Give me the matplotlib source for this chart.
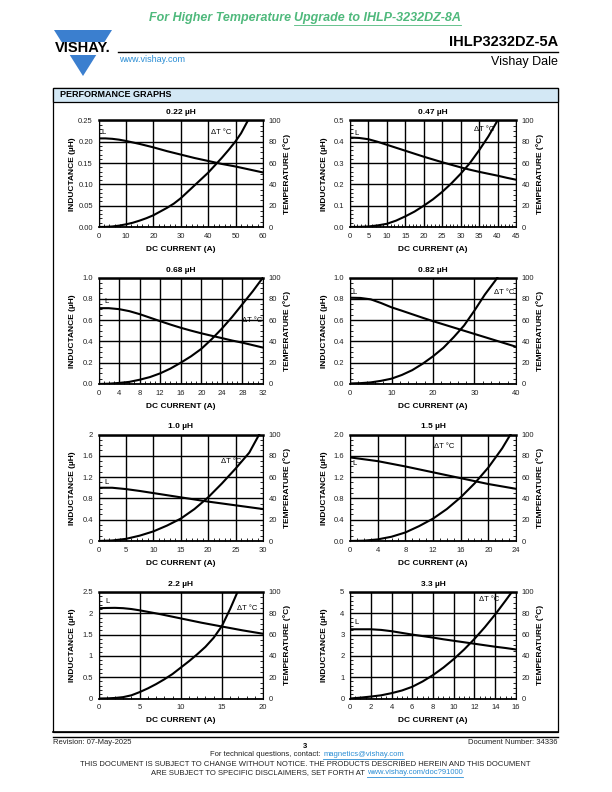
import numpy as np
import matplotlib
matplotlib.use('Agg')
import matplotlib.pyplot as plt
from matplotlib.patches import Rectangle, Polygon
from matplotlib.ticker import AutoMinorLocator

plt.rcParams['font.family'] = ['Liberation Sans', 'DejaVu Sans']

W, H = 612, 792

# ---- data ----
# 0.22 uH
i_022 = [0, 2.5, 5, 7.5, 10, 15, 20, 25, 30, 35, 40, 45, 50, 55, 60]
l_022 = [0.208, 0.208, 0.207, 0.205, 0.202, 0.195, 0.187, 0.178, 0.170, 0.162, 0.155, 0.148, 0.142, 0.135, 0.128]
ti_022 = [0, 2.5, 5, 7.5, 10, 12.5, 15, 17.5, 20, 22.5, 25, 27.5, 30, 32.5, 35, 37.5, 40, 42.5, 45, 47.5, 50, 52, 54.5]
t_022 = [0, 0.1, 0.5, 1.3, 2.5, 4, 6, 8.3, 11, 14.5, 18, 22, 27, 33, 39, 45, 51, 58, 65, 72.5, 80.5, 88, 100]

# 0.47 uH
i_047 = [0, 2.5, 5, 7.5, 10, 12.5, 15, 17.5, 20, 22.5, 25, 27.5, 30, 32.5, 35, 37.5, 40, 42.5, 45]
l_047 = [0.420, 0.418, 0.412, 0.400, 0.386, 0.372, 0.358, 0.344, 0.330, 0.317, 0.304, 0.292, 0.280, 0.269, 0.259, 0.250, 0.241, 0.231, 0.222]
ti_047 = [0, 2.5, 5, 7.5, 10, 12.5, 15, 17.5, 20, 22.5, 25, 27.5, 30, 32.5, 35, 37.5, 40]
t_047 = [0, 0.1, 0.5, 1.5, 3, 6, 10, 14.5, 20, 26, 33, 41, 50, 60, 72, 85, 100]

# 0.68 uH
i_068 = [0, 2, 4, 6, 8, 10, 12, 14, 16, 18, 20, 22, 24, 26, 28, 30, 32]
l_068 = [0.712, 0.712, 0.703, 0.684, 0.656, 0.623, 0.590, 0.558, 0.528, 0.501, 0.476, 0.453, 0.431, 0.408, 0.388, 0.365, 0.342]
ti_068 = [0, 2, 4, 6, 8, 10, 12, 14, 16, 18, 20, 22, 24, 26, 28, 30, 32]
t_068 = [0, 0.3, 1, 2, 4, 6.5, 10, 14.5, 20, 26, 33, 42, 52, 63, 75, 87, 100]

# 0.82 uH
i_082 = [0, 2.5, 5, 7.5, 10, 12.5, 15, 17.5, 20, 22.5, 25, 27.5, 30, 32.5, 35, 37.5, 40]
l_082 = [0.81, 0.808, 0.795, 0.76, 0.72, 0.688, 0.655, 0.622, 0.59, 0.56, 0.53, 0.50, 0.47, 0.44, 0.41, 0.38, 0.35]
ti_082 = [0, 2.5, 5, 7.5, 10, 12.5, 15, 17.5, 20, 22.5, 25, 27.5, 30, 32.5, 35, 35.5]
t_082 = [0.5, 0.8, 1.5, 3, 5, 8.5, 13, 19, 26, 34, 44, 55, 69, 84, 97, 100]

# 1.0 uH
i_100 = [0, 2.5, 5, 7.5, 10, 12.5, 15, 17.5, 20, 22.5, 25, 27.5, 30]
l_100 = [1.0, 1.0, 0.975, 0.94, 0.90, 0.86, 0.82, 0.78, 0.74, 0.705, 0.67, 0.635, 0.60]
ti_100 = [0, 2.5, 5, 7.5, 10, 12.5, 15, 17.5, 20, 22.5, 25, 27.5, 29.3]
t_100 = [0, 0.5, 2, 5, 9, 14.5, 21, 30, 41, 54, 68, 83, 100]

# 1.5 uH
i_150 = [0, 2, 4, 6, 8, 10, 12, 14, 16, 18, 20, 22, 24]
l_150 = [1.57, 1.535, 1.50, 1.45, 1.40, 1.345, 1.29, 1.235, 1.18, 1.125, 1.07, 1.025, 0.98]
ti_150 = [0, 2, 4, 6, 8, 10, 12, 14, 16, 18, 20, 21, 22, 23.2]
t_150 = [0, 0.3, 1.5, 4, 8, 14, 21, 30, 41, 54, 69, 78, 87, 100]

# 2.2 uH
i_220 = [0, 1, 2, 3, 4, 5, 7.5, 10, 12.5, 15, 17.5, 20]
l_220 = [2.12, 2.125, 2.128, 2.12, 2.10, 2.07, 1.98, 1.88, 1.78, 1.69, 1.60, 1.52]
ti_220 = [0, 1, 2, 3, 4, 5, 6, 7, 8, 9, 10, 11, 12, 13, 14, 15, 16, 16.9]
t_220 = [0, 0.1, 0.5, 1.3, 3, 6, 9.5, 13.5, 18, 23, 29, 35, 41.5, 48.5, 57, 68, 84, 100]

# 3.3 uH
i_330 = [0, 1, 2, 3, 4, 5, 6, 7, 8, 9, 10, 11, 12, 13, 14, 15, 16]
l_330 = [3.25, 3.25, 3.25, 3.22, 3.16, 3.08, 3.00, 2.93, 2.86, 2.78, 2.71, 2.64, 2.57, 2.50, 2.43, 2.37, 2.30]
ti_330 = [0, 1, 2, 3, 4, 5, 6, 7, 8, 9, 10, 11, 12, 13, 14, 15, 15.6]
t_330 = [0, 0.8, 1.8, 3, 5, 7.5, 11, 16, 22, 29, 37, 46, 56, 67, 79, 92, 100]

titles = ['0.22 µH', '0.47 µH', '0.68 µH', '0.82 µH', '1.0 µH', '1.5 µH', '2.2 µH', '3.3 µH']
x_max = [60, 45, 32, 40, 30, 24, 20, 16]
x_step = [10, 5, 4, 10, 5, 4, 5, 2]
y_ticklabels = [
    ['0.00', '0.05', '0.10', '0.15', '0.20', '0.25'],
    ['0.0', '0.1', '0.2', '0.3', '0.4', '0.5'],
    ['0.0', '0.2', '0.4', '0.6', '0.8', '1.0'],
    ['0.0', '0.2', '0.4', '0.6', '0.8', '1.0'],
    ['0', '0.4', '0.8', '1.2', '1.6', '2'],
    ['0.0', '0.4', '0.8', '1.2', '1.6', '2.0'],
    ['0', '0.5', '1', '1.5', '2', '2.5'],
    ['0', '1', '2', '3', '4', '5'],
]
temp_ticks = [0, 20, 40, 60, 80, 100]
curves = [(i_022, l_022, ti_022, t_022), (i_047, l_047, ti_047, t_047),
          (i_068, l_068, ti_068, t_068), (i_082, l_082, ti_082, t_082),
          (i_100, l_100, ti_100, t_100), (i_150, l_150, ti_150, t_150),
          (i_220, l_220, ti_220, t_220), (i_330, l_330, ti_330, t_330)]
# label spots (x, y in inductance units), ha for delta T label
l_label = [(1.2, 0.222), (1.2, 0.44), (1.1, 0.77), (0.6, 0.855), (1.0, 1.1), (0.4, 1.46), (0.8, 2.27), (0.4, 3.58)]
t_label = [(41.2, 0.222, 'left'), (33.5, 0.456, 'left'), (31.8, 0.6, 'right'), (34.8, 0.855, 'left'),
           (22.3, 1.5, 'left'), (12.2, 1.78, 'left'), (16.8, 2.12, 'left'), (12.4, 4.63, 'left')]

# layout in pixels
col_left = [98.5, 350]
col_w = [164.5, 166]
row_top = [120.5, 277.5, 434.5, 592]
ax_h = 106.5

fig = plt.figure(figsize=(W / 100, H / 100), dpi=100)
bg = fig.add_axes([0, 0, 1, 1])
bg.set_xlim(0, W)
bg.set_ylim(H, 0)
bg.axis('off')
renderer = fig.canvas.get_renderer()


def text_runs(x, y, runs, size, ha='center', weight='normal', style='normal', gap=True):
    items = []
    total = 0
    space = size * 0.278 * 100 / 72
    for k, (s, color, under) in enumerate(runs):
        t = bg.text(0, y, s, fontsize=size, color=color, fontweight=weight, fontstyle=style,
                    va='center', ha='left')
        w = t.get_window_extent(renderer).width
        items.append((t, w, under, color))
        total += w
        if k < len(runs) - 1 and gap:
            total += space
    start = x - total / 2 if ha == 'center' else x
    for t, w, under, color in items:
        t.set_x(start)
        if under:
            uy = y + size * 0.55 * 100 / 72
            bg.plot([start, start + w], [uy, uy], color=color, lw=0.6)
        start += w + (space if gap else 0)


# header
text_runs(305, 18, [('For Higher Temperature', '#4fb97c', False),
                    ('Upgrade to IHLP-3232DZ-8A', '#4fb97c', True)], 9, weight='bold', style='italic')
bg.add_patch(Polygon([(54, 30), (112, 30), (83, 76)], closed=True, facecolor='#3b7fcf', edgecolor='none'))
bg.add_patch(Rectangle((50, 42), 66, 13, facecolor='white', edgecolor='none'))
bg.text(82.5, 48.5, 'VISHAY.', fontsize=10.5, fontweight='bold', ha='center', va='center', color='black')
bg.text(558, 42, 'IHLP3232DZ-5A', fontsize=10.5, fontweight='bold', ha='right', va='center')
bg.plot([118, 558], [52, 52], color='black', lw=1.0)
bg.text(119, 59, 'www.vishay.com', fontsize=6.5, color='#2a8dd4', ha='left', va='center')
bg.text(558, 62, 'Vishay Dale', fontsize=9, ha='right', va='center')

# frame
bg.add_patch(Rectangle((53, 88), 505, 644, facecolor='none', edgecolor='black', lw=0.9))
bg.add_patch(Rectangle((53, 88), 505, 13.5, facecolor='#d3e8f5', edgecolor='black', lw=0.9))
bg.text(60, 94.8, 'PERFORMANCE GRAPHS', fontsize=6.5, fontweight='bold', ha='left', va='center')
bg.plot([53, 558], [732, 732], color='black', lw=1.2)
bg.plot([53, 558], [737, 737], color='black', lw=1.0)

# footer
bg.text(53, 743, 'Revision: 07-May-2025', fontsize=5.5, ha='left', va='center', color='#222222')
bg.text(305, 747, '3', fontsize=5.5, fontweight='bold', ha='center', va='center')
bg.text(558, 743, 'Document Number: 34336', fontsize=5.5, ha='right', va='center', color='#222222')
text_runs(307, 755, [('For technical questions, contact:', '#222222', False),
                     ('magnetics@vishay.com', '#2a8dd4', True)], 5.5)
bg.text(305, 765, 'THIS DOCUMENT IS SUBJECT TO CHANGE WITHOUT NOTICE. THE PRODUCTS DESCRIBED HEREIN AND THIS DOCUMENT',
        fontsize=5.5, ha='center', va='center', color='#222222')
text_runs(307, 773, [('ARE SUBJECT TO SPECIFIC DISCLAIMERS, SET FORTH AT', '#222222', False),
                     ('www.vishay.com/doc?91000', '#2a8dd4', True)], 5.5)

# panels
for n in range(8):
    r, c = n // 2, n % 2
    left, width, top = col_left[c], col_w[c], row_top[r]
    ax = fig.add_axes([left / W, 1 - (top + ax_h) / H, width / W, ax_h / H])
    cur, ind, tcur, temp = curves[n]
    ymax = float(y_ticklabels[n][-1])
    ax.plot(cur, ind, color='black', lw=1.5)
    ax.set_xlim(0, x_max[n])
    ax.set_ylim(0, ymax)
    xt = np.arange(0, x_max[n] + 0.001, x_step[n])
    ax.set_xticks(xt, [f'{v:g}' for v in xt])
    ax.set_yticks(np.linspace(0, ymax, 6), y_ticklabels[n])
    ax.grid(True, color='black', lw=1.0)
    ax.xaxis.set_minor_locator(AutoMinorLocator())
    ax.yaxis.set_minor_locator(AutoMinorLocator())
    ax.tick_params(which='major', length=0, labelsize=5.5, labelcolor='#222222', pad=4)
    ax.tick_params(which='minor', direction='in', length=2.2, width=0.6)
    for side, lw in [('top', 1.8), ('bottom', 1.3), ('left', 0.8), ('right', 0.8)]:
        ax.spines[side].set_linewidth(lw)

    tw = ax.twinx()
    tw.plot(tcur, temp, color='black', lw=1.5)
    tw.set_ylim(0, 100)
    tw.set_yticks(temp_ticks, [str(v) for v in temp_ticks])
    tw.yaxis.set_minor_locator(AutoMinorLocator())
    tw.tick_params(which='major', length=0, labelsize=5.5, labelcolor='#222222', pad=4)
    tw.tick_params(which='minor', direction='in', length=2.2, width=0.6)
    for sp in tw.spines.values():
        sp.set_visible(False)

    ax.text(0.5, 1 + 7.5 / ax_h, titles[n], transform=ax.transAxes, ha='center', va='center',
            fontsize=6, fontweight='bold')
    ax.set_xlabel('DC CURRENT (A)', fontsize=6, fontweight='bold', va='center')
    ax.xaxis.set_label_coords(0.5, -22.5 / ax_h)
    ax.set_ylabel('INDUCTANCE (µH)', fontsize=6, fontweight='bold', va='center')
    ax.yaxis.set_label_coords(-26 / width, 0.5)
    tw.set_ylabel('TEMPERATURE (°C)', fontsize=6, fontweight='bold', va='center')
    tw.yaxis.set_label_coords(1 + 24 / width, 0.5)

    lx, ly = l_label[n]
    ax.text(lx, ly, 'L', fontsize=5.5, ha='left', va='center')
    tx, ty, tha = t_label[n]
    ax.text(tx, ty, 'ΔT °C', fontsize=5.5, ha=tha, va='center')

fig.savefig('out.png', dpi=100)
